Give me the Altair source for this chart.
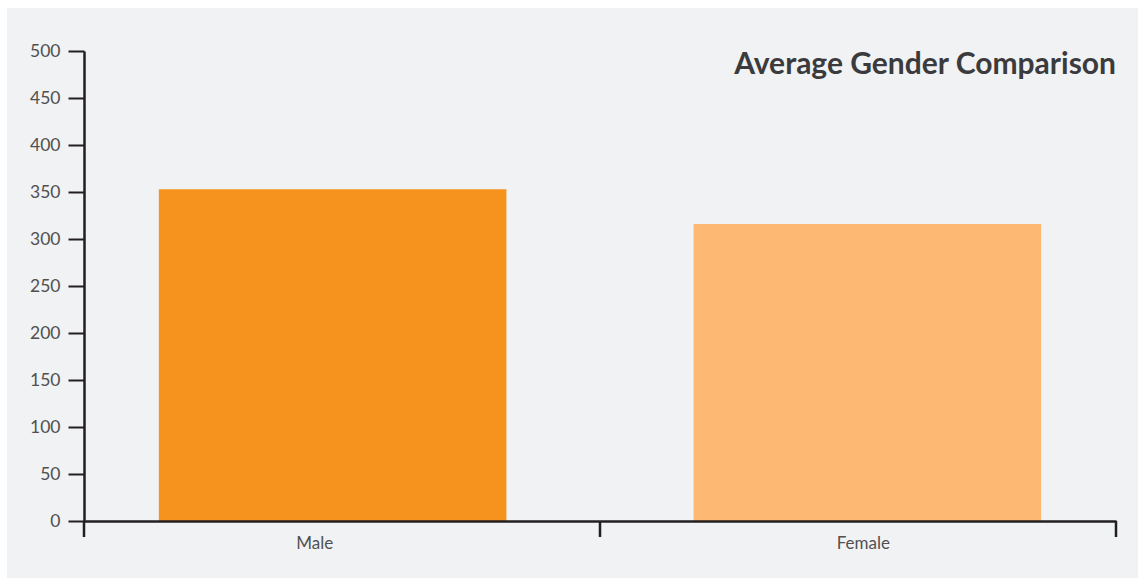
import altair as alt
import pandas as pd

categories = ["Male", "Female"]
values = [353, 316]
bar_colors = ["#f6931e", "#fdb973"]
y_ticks = [0, 50, 100, 150, 200, 250, 300, 350, 400, 450, 500]
x_tick_positions = [0, 1, 2]
title_text = ["Average Gender Comparison"]

W, H = 1032, 470
AXIS_COLOR = "#231f20"
LABEL_COLOR = "#505050"
FONT = "Lato"

df = pd.DataFrame({"gender": categories, "value": values})
ticks_df = pd.DataFrame({"t": x_tick_positions})
title_df = pd.DataFrame({"label": title_text})

background = alt.Chart(title_df).mark_rect(color="#f1f2f4").encode(
    x=alt.value(-77), x2=alt.value(1054), y=alt.value(-43), y2=alt.value(527)
)

bars = alt.Chart(df).mark_bar().encode(
    x=alt.X(
        "gender:N",
        sort=categories,
        scale=alt.Scale(paddingInner=0.35, paddingOuter=0.14),
        axis=alt.Axis(
            title=None,
            ticks=False,
            domainColor=AXIS_COLOR,
            domainWidth=2.5,
            labelAngle=0,
            labelColor=LABEL_COLOR,
            labelFont=FONT,
            labelFontSize=17,
            labelPadding=14,
            labelOffset=alt.ExprRef(expr="datum.value == 'Male' ? -18 : -4"),
            zindex=2,
        ),
    ),
    y=alt.Y(
        "value:Q",
        scale=alt.Scale(domain=[0, 500], nice=False),
        axis=alt.Axis(
            title=None,
            values=y_ticks,
            grid=False,
            tickSize=16,
            tickWidth=2,
            tickColor=AXIS_COLOR,
            domainColor=AXIS_COLOR,
            domainWidth=2.5,
            labelColor=LABEL_COLOR,
            labelFont=FONT,
            labelFontSize=17.5,
            labelPadding=8,
            zindex=2,
        ),
    ),
    color=alt.Color(
        "gender:N",
        scale=alt.Scale(domain=categories, range=bar_colors),
        legend=None,
    ),
)

xticks = alt.Chart(ticks_df).mark_rule(color=AXIS_COLOR, strokeWidth=2.5).encode(
    x=alt.X("t:Q", scale=alt.Scale(domain=[0, 2], nice=False, zero=False), axis=None),
    y=alt.value(H),
    y2=alt.value(H + 16),
)

title = alt.Chart(title_df).mark_text(
    align="right",
    baseline="alphabetic",
    font=FONT,
    fontWeight="bold",
    fontSize=30,
    color="#3b3b3d",
).encode(
    text="label:N",
    x=alt.value(W),
    y=alt.value(23),
)

chart = (
    alt.layer(background, bars, xticks, title)
    .resolve_scale(x="independent")
    .properties(
        width=W,
        height=H,
        background="white",
        autosize=alt.AutoSizeParams(type="none"),
        padding={"left": 84, "top": 51, "right": 29, "bottom": 58},
    )
    .configure_view(stroke=None)
)

chart.save("out.html", embed_options={"renderer": "svg", "actions": False})
